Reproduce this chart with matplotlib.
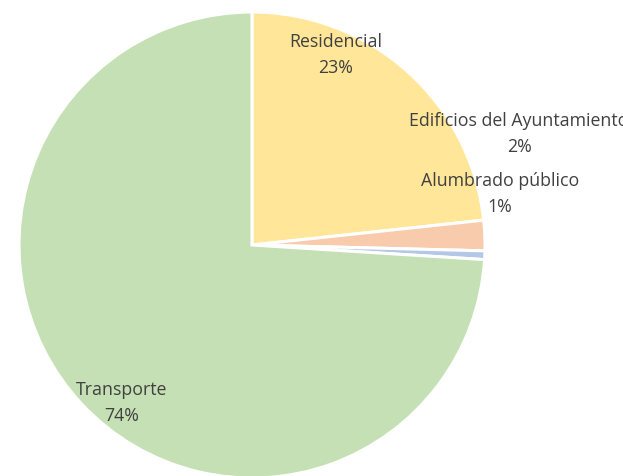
import matplotlib
matplotlib.use('Agg')
import matplotlib.pyplot as plt

# data
labels = ['Residencial', 'Edificios del Ayuntamiento', 'Alumbrado público', 'Transporte']
pct_text = ['23%', '2%', '1%', '74%']
values = [23.3, 2.1, 0.6, 74.0]
colors = ['#FFE699', '#F8CBAD', '#B4C7E7', '#C5E0B4']

W, H = 623, 477
cx, cy, R = 252, 246, 233  # pie centre / radius in pixels

fig = plt.figure(figsize=(W / 100, H / 100), dpi=100)
ax = fig.add_axes([0, 0, 1, 1])
ax.pie(values, colors=colors, startangle=90, counterclock=False,
       wedgeprops=dict(edgecolor='white', linewidth=2.2))
ax.set_aspect('auto')
ax.set_xlim(-cx / R, (W - cx) / R)
ax.set_ylim(-(H - cy) / R, cy / R)
ax.axis('off')

# label centres in pixels (x, y of name line)
label_pos = [(336, 42), (519, 121), (500, 181), (122, 390)]
for name, pct, (px, py) in zip(labels, pct_text, label_pos):
    x = (px - cx) / R
    ax.text(x, (cy - py) / R, name, ha='center', va='center',
            fontsize=12.8, color='#404040', family='Open Sans')
    ax.text(x, (cy - py - 26) / R, pct, ha='center', va='center',
            fontsize=12.8, color='#404040', family='Open Sans')

fig.savefig('out.png', dpi=100)
